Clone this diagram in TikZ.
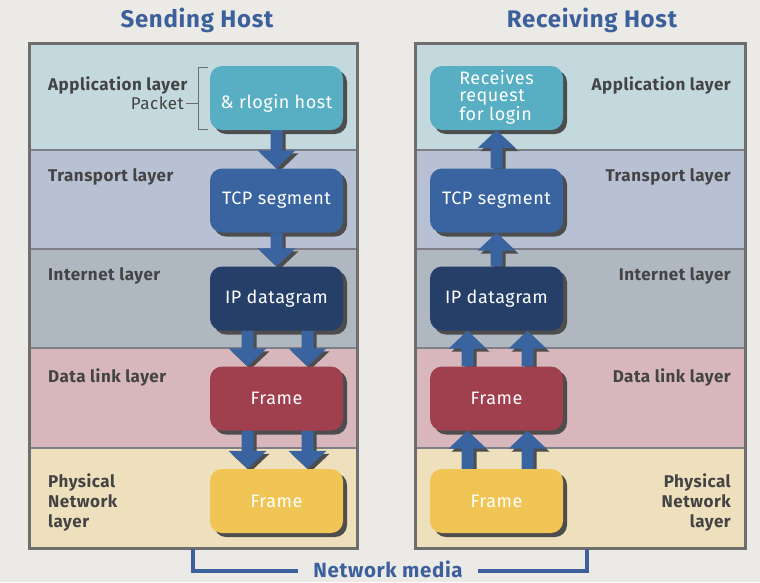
\documentclass[tikz,border=0pt]{standalone}
\usepackage{fontspec}
\setmainfont[LetterSpace=3]{Fira Sans}
\usetikzlibrary{calc}
\definecolor{bgc}{HTML}{EBEAE6}
\definecolor{appc}{HTML}{C3D9DD}
\definecolor{trac}{HTML}{B7C1D3}
\definecolor{intc}{HTML}{AFB7C1}
\definecolor{dlc}{HTML}{D7B7BB}
\definecolor{phc}{HTML}{EEE0BD}
\definecolor{borderc}{HTML}{6E6E6E}
\definecolor{sepc}{HTML}{7F7F88}
\definecolor{tealc}{HTML}{58AEC3}
\definecolor{bluec}{HTML}{3A64A0}
\definecolor{navyc}{HTML}{263F69}
\definecolor{redc}{HTML}{A0404F}
\definecolor{yelc}{HTML}{F0C555}
\definecolor{shadowc}{HTML}{4D4D4D}
\definecolor{titlec}{HTML}{3C609B}
\definecolor{labelc}{HTML}{444444}
\pgfdeclarelayer{bands}
\pgfdeclarelayer{shad}
\pgfdeclarelayer{arr}
\pgfsetlayers{bands,shad,arr,main}
\newcommand\mybox[5]{%
  \begin{pgfonlayer}{shad}
    \fill[shadowc, rounded corners=12pt] ($(#2)+(4,4)+(-66.5,-32)$) rectangle ++(133,64);
  \end{pgfonlayer}
  \node[hostbox, fill=#4] (#1) at (#2) {#5};}
\newcommand\fatarrow[3]{%
  \begin{pgfonlayer}{arr}
  \foreach \o/\c in {3/shadowc,0/bluec}{
    \coordinate (s) at ($(#1)+(#3+\o,\o)$);
    \coordinate (t) at ($(#2)+(#3+\o,\o)$);
    \coordinate (h) at ($(t)!18pt!(s)$);
    \fill[\c] ($(s)!6pt!90:(t)$) -- ($(h)!6pt!-90:(s)$) -- ($(h)!19pt!-90:(s)$) -- (t)
      -- ($(h)!19pt!90:(s)$) -- ($(h)!6pt!90:(s)$) -- ($(s)!6pt!-90:(t)$) -- cycle;
  }
  \end{pgfonlayer}}
\begin{document}
\begin{tikzpicture}[x=1pt,y=-1pt,
  hostbox/.style={rectangle, rounded corners=12pt, minimum width=133pt, minimum height=64pt,
    inner sep=0pt, text=white, font=\fontsize{18}{18}\selectfont},
  layerlbl/.style={text=labelc, font=\fontsize{17}{20}\selectfont\bfseries, inner sep=0pt},
  title/.style={text=titlec, font=\fontsize{24}{26}\selectfont\bfseries, inner sep=0pt},
  media/.style={titlec, line width=4pt}]
\begin{pgfonlayer}{bands}
\fill[bgc] (0,0) rectangle (760,582);
\foreach \L/\R in {29/357, 415/745}{
  \fill[appc] (\L,43) rectangle (\R,150);
  \fill[trac] (\L,150) rectangle (\R,249);
  \fill[intc] (\L,249) rectangle (\R,348);
  \fill[dlc] (\L,348) rectangle (\R,448);
  \fill[phc] (\L,448) rectangle (\R,548);
  \foreach \y in {150,249,348,448}{\draw[sepc, line width=1.2pt] (\L,\y) -- (\R,\y);}
  \draw[borderc, line width=3pt] (\L,43) rectangle (\R,548);
}
\end{pgfonlayer}
\useasboundingbox (0,0) rectangle (760,582);

% titles
\node[title] (t1) at (197,20) {Sending Host};
\node[title] (t2) at (592,20) {Receiving Host};

% sending host boxes
\mybox{sa}{276.5,98}{}{tealc}{\raisebox{-10pt}[0pt][0pt]{\& rlogin host}}
\mybox{st}{276.5,200.5}{}{bluec}{TCP segment}
\mybox{si}{276.5,298.5}{}{navyc}{IP datagram}
\mybox{sd}{276.5,398.5}{}{redc}{Frame}
\mybox{sp}{276.5,501}{}{yelc}{Frame}

% receiving host boxes
\mybox{ra}{496.5,98}{}{tealc}{\raisebox{-2pt}{\begin{tabular}{@{}l@{}}Receives\\[-1pt]request\\[-1pt]for login\end{tabular}}}
\mybox{rt}{496.5,200.5}{}{bluec}{TCP segment}
\mybox{ri}{496.5,298.5}{}{navyc}{IP datagram}
\mybox{rd}{496.5,398.5}{}{redc}{Frame}
\mybox{rp}{496.5,501}{}{yelc}{Frame}

% arrows sending
\fatarrow{sa.south}{st.north}{0}
\fatarrow{st.south}{si.north}{0}
\fatarrow{si.south}{sd.north}{-29}
\fatarrow{si.south}{sd.north}{31}
\fatarrow{sd.south}{sp.north}{-29}
\fatarrow{sd.south}{sp.north}{31}
% arrows receiving
\fatarrow{rp.north}{rd.south}{-29}
\fatarrow{rp.north}{rd.south}{31}
\fatarrow{rd.north}{ri.south}{-29}
\fatarrow{rd.north}{ri.south}{31}
\fatarrow{ri.north}{rt.south}{0}
\fatarrow{rt.north}{ra.south}{0}

% left labels
\node[layerlbl, anchor=west] (l1) at (48,85) {Application layer};
\node[text=labelc, font=\fontsize{17}{20}\selectfont, inner sep=0pt, anchor=east] (pk) at (184,103) {Packet};
\node[layerlbl, anchor=west] (l2) at (48,177) {Transport layer};
\node[layerlbl, anchor=west] (l3) at (48,276) {Internet layer};
\node[layerlbl, anchor=west] (l4) at (48,377) {Data link layer};
\node[layerlbl, anchor=west, align=left] (l5) at (48,502) {Physical\\Network\\layer};
\coordinate (bt) at (208,67);
\coordinate (bb) at (208,129);
\draw[borderc, line width=1pt] (bt) -- ++(-10,0) -- ($(bb)+(-10,0)$) -- (bb);
\draw[borderc, line width=1pt] ([xshift=2pt]pk.east) -- ($(pk.east)+(14,0)$);

% right labels
\node[layerlbl, anchor=east] (r1) at (731,85) {Application layer};
\node[layerlbl, anchor=east] (r2) at (731,177) {Transport layer};
\node[layerlbl, anchor=east] (r3) at (731,276) {Internet layer};
\node[layerlbl, anchor=east] (r4) at (731,377) {Data link layer};
\node[layerlbl, anchor=east, align=right] (r5) at (731,502) {Physical\\Network\\layer};

% network media
\node[text=titlec, font=\fontsize{20.5}{22}\selectfont\bfseries, inner sep=0pt] (nm) at (388,569) {Network media};
\coordinate (ml) at (193,549);
\coordinate (mr) at (587,549);
\draw[media] (ml) |- ($(nm.west)+(-15,2)$);
\draw[media] (mr) |- ($(nm.east)+(15,2)$);
\end{tikzpicture}
\end{document}
